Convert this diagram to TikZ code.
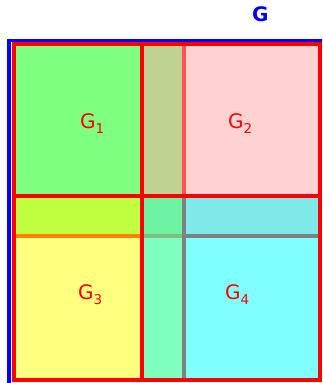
\documentclass[tikz,border=0pt]{standalone}
\usepackage{fontspec}
\setmainfont{DejaVu Sans}
\definecolor{partgreen}{RGB}{0,255,0}
\definecolor{partpink}{RGB}{255,166,166}
\definecolor{partyellow}{RGB}{255,255,0}
\definecolor{partcyan}{RGB}{0,255,255}
\definecolor{partred}{RGB}{255,0,0}
\definecolor{partblue}{RGB}{0,0,255}
\tikzset{part/.style={draw=partred,line width=4pt,fill opacity=0.5},
 whole/.style={draw=partblue,line width=3.4pt},
 lab/.style={anchor=base west,inner sep=0pt,text=partred,font=\fontsize{20}{24}\selectfont}}
\newcommand{\gsub}[1]{G\raisebox{-5.4pt}{\fontsize{13.5}{16}\selectfont #1}}

\begin{document}
\begin{tikzpicture}[x=1pt,y=-1pt]
\useasboundingbox (0,0) rectangle (322,383);
\clip (0,0) rectangle (322,383);
\draw[whole] (9,40.7) rectangle (330,390);
\draw[part,fill=partgreen] (14,44) rectangle (184,235.5);
\draw[part,fill=partpink] (142,44) rectangle (320.3,235.5);
\draw[part,fill=partyellow] (14,195.5) rectangle (184,380.3);
\draw[part,fill=partcyan] (142,195.5) rectangle (320.3,380.3);
\node[lab](g1) at(80,128.3){\gsub{1}};
\node[lab](g2) at(228,128.3){\gsub{2}};
\node[lab](g3) at(78,299.3){\gsub{3}};
\node[lab](g4) at(225,299.3){\gsub{4}};
\node[lab,text=partblue,font=\fontsize{20}{24}\selectfont\bfseries](g) at(252,21.7){G};
\end{tikzpicture}
\end{document}
